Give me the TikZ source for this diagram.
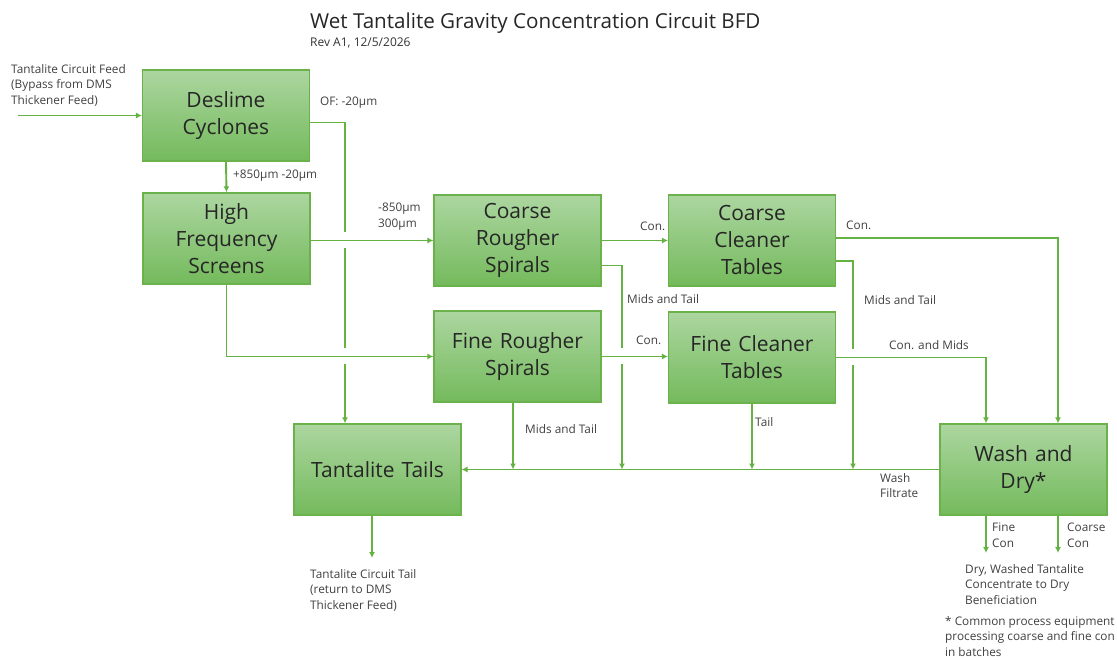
\documentclass[tikz,border=0pt]{standalone}
\usepackage{fontspec}
\setmainfont{Open Sans}
\usetikzlibrary{arrows.meta}
\definecolor{boxtop}{RGB}{172,214,160}
\definecolor{boxbot}{RGB}{116,186,92}
\definecolor{boxline}{RGB}{108,178,76}
\definecolor{flowgreen}{RGB}{100,178,66}
\tikzset{flow/.style={->,>={Latex[length=6pt,width=6pt]},line width=1.9pt,draw=flowgreen},bridge/.style={preaction={draw=white,-,line width=16pt,shorten <=4pt,shorten >=4pt}},box/.style={rectangle,draw=boxline,line width=1.4pt,top color=boxtop,bottom color=boxbot,minimum width=165pt,minimum height=91pt,text width=160pt,align=center,font=\fontsize{21}{27}\selectfont,text=black!85},lbl/.style={anchor=north west,inner sep=0pt,align=left,font=\fontsize{11.8}{15.5}\selectfont,text=black!75}}

\begin{document}
\begin{tikzpicture}[x=1pt,y=-1pt]
\useasboundingbox (0,0) rectangle (1117,660);
%title
\node (title) at (310,13)[anchor=north west,inner sep=0pt,font=\fontsize{20.6}{23}\selectfont,text=black!85]{Wet Tantalite Gravity Concentration Circuit BFD};
\node (rev) at (310,38)[anchor=north west,inner sep=0pt,font=\fontsize{12}{14}\selectfont,text=black!80]{Rev A1, 12/5/2026};

%units
\node (dc) at (226,115.5)[box]{Deslime\\Cyclones};
\node (hf) at (226.5,238.5)[box]{High\\Frequency\\Screens};
\node (crs) at (517.5,240.5)[box]{Coarse\\Rougher\\Spirals};
\node (cct) at (752,240.5)[box]{Coarse\\Cleaner\\Tables};
\node (frs) at (517.5,356.5)[box]{Fine Rougher\\Spirals};
\node (fct) at (752,357.5)[box]{Fine Cleaner\\Tables};
\node (tt) at (377.5,469.5)[box]{Tantalite Tails};
\node (wd) at (1023.5,469.5)[box]{Wash and\\Dry*};

%free ends
\coordinate (feed) at (18,115.5);
\coordinate (mt1) at (622,469.5);
\coordinate (mt2) at (853,469.5);
\coordinate (tailout) at (372,558);
\coordinate (fineout) at (986,553);
\coordinate (coarseout) at (1058,553);

%feed and deslime
\draw[flow] (feed) -- (dc.west);
\draw[flow] (dc.south) -- (hf.north);
\draw[flow] ([yshift=-7pt]dc.east) -| ([xshift=-32.5pt]tt.north);

%tails header
\draw[flow] (wd.west) -- (tt.east);
\draw[flow] ([yshift=-25pt]crs.east) -| (mt1);
\draw[flow] ([yshift=-20.5pt]cct.east) -| (mt2);
\draw[flow] ([xshift=-4.5pt]frs.south) -- ([xshift=-4.5pt]frs.south |- tt.east);
\draw[flow] (fct.south) -- (fct.south |- tt.east);
\draw[flow] ([xshift=-5.5pt]tt.south) -- (tailout);

%roughers and cleaners
\draw[flow,bridge] (hf.east |- crs.west) -- (crs.west);
\draw[flow,bridge] (hf.south) |- (frs.west);
\draw[flow] (crs.east) -- (cct.west);
\draw[flow,bridge] (frs.east) -- (frs.east -| fct.west);
\draw[flow] ([yshift=2.5pt]cct.east) -| ([xshift=34.5pt]wd.north);
\draw[flow,bridge] (fct.east) -| ([xshift=-37.5pt]wd.north);

%products
\draw[flow] ([xshift=-37.5pt]wd.south) -- (fineout);
\draw[flow] ([xshift=34.5pt]wd.south) -- (coarseout);

%labels
\node (lfeed) at (11,64)[lbl]{Tantalite Circuit Feed\\(Bypass from DMS\\Thickener Feed)};
\node (lof) at (320,97)[lbl]{OF: -20µm};
\node (lhf) at (233,170)[lbl]{+850µm -20µm};
\node (lcrs) at (378,203)[lbl]{-850µm\\300µm};
\node (lcon1) at (640,222)[lbl]{Con.};
\node (lmt1) at (627,294)[lbl]{Mids and Tail};
\node (lcon2) at (636,336)[lbl]{Con.};
\node (lmt2) at (525,424)[lbl]{Mids and Tail};
\node (ltail) at (755,417)[lbl]{Tail};
\node (lcon3) at (846,221)[lbl]{Con.};
\node (lmt3) at (864,295)[lbl]{Mids and Tail};
\node (lcm) at (889,340)[lbl]{Con. and Mids};
\node (lwf) at (880,473)[lbl]{Wash\\Filtrate};
\node (lfine) at (992,523)[lbl]{Fine\\Con};
\node (lcoarse) at (1067,523)[lbl]{Coarse\\Con};
\node (ltailout) at (310,569)[lbl]{Tantalite Circuit Tail\\(return to DMS\\Thickener Feed)};
\node (lconc) at (965,564)[lbl]{Dry, Washed Tantalite\\Concentrate to Dry\\Beneficiation};
\node (lnote) at (945,616)[lbl]{* Common process equipment\\processing coarse and fine con\\in batches};
\end{tikzpicture}
\end{document}
